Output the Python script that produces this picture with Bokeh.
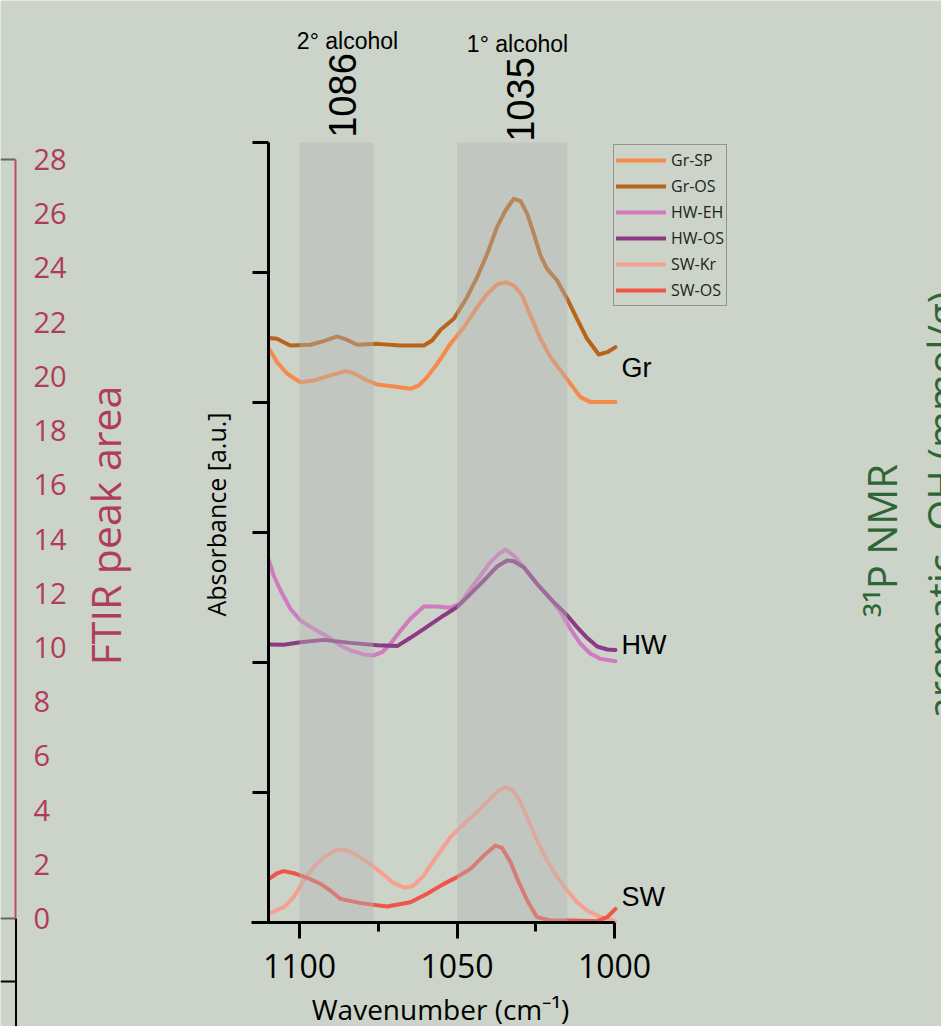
from bokeh.plotting import figure
from bokeh.models import (Range1d, LinearAxis, FixedTicker, Label, Legend,
                          LegendItem, ColumnDataSource)
from bokeh.embed import file_html
from bokeh.resources import INLINE

# ---------------- data ----------------
series_names = ["Gr-SP", "Gr-OS", "HW-EH", "HW-OS", "SW-Kr", "SW-OS"]
series_colors = ["#f58a4b", "#b8651b", "#d07ac0", "#8b3a84", "#f5a091", "#f0554a"]

grsp_wn = [1109.7, 1107.1, 1103.9, 1099.7, 1095.5, 1090.2, 1085.4, 1082.8, 1079.6, 1075.3, 1070.1,
           1064.8, 1062.1, 1059.5, 1056.3, 1052.1, 1047.8, 1043.6, 1040.4, 1037.3, 1034.6, 1032.0,
           1029.3, 1026.7, 1023.5, 1020.3, 1017.1, 1014.0, 1010.8, 1007.6, 999.7]
grsp_abs = [4.413, 4.310, 4.221, 4.156, 4.169, 4.208, 4.241, 4.226, 4.182, 4.138, 4.123,
            4.105, 4.131, 4.195, 4.297, 4.451, 4.579, 4.733, 4.836, 4.908, 4.926, 4.900,
            4.823, 4.669, 4.490, 4.349, 4.246, 4.144, 4.041, 4.003, 4.003]

gros_wn = [1109.7, 1107.1, 1105.0, 1102.9, 1096.5, 1092.3, 1088.0, 1084.9, 1081.7, 1075.3, 1067.9,
           1060.5, 1057.9, 1055.2, 1051.0, 1046.8, 1043.6, 1040.4, 1037.3, 1034.6, 1032.0, 1029.8,
           1027.7, 1025.6, 1023.5, 1021.4, 1018.2, 1015.0, 1011.9, 1008.7, 1005.0, 1002.3, 999.7]
gros_abs = [4.497, 4.490, 4.464, 4.438, 4.444, 4.472, 4.508, 4.482, 4.444, 4.451, 4.438,
            4.438, 4.477, 4.559, 4.644, 4.810, 4.964, 5.144, 5.349, 5.477, 5.567, 5.549,
            5.451, 5.297, 5.131, 5.028, 4.938, 4.797, 4.644, 4.490, 4.369, 4.387, 4.426]

hweh_wn = [1109.7, 1108.2, 1106.0, 1102.9, 1099.7, 1095.5, 1091.2, 1087.0, 1083.8, 1079.6, 1076.4,
           1073.8, 1071.1, 1067.9, 1064.8, 1060.5, 1056.3, 1052.1, 1048.9, 1045.7, 1042.5, 1039.4,
           1036.7, 1034.6, 1032.0, 1028.8, 1024.6, 1020.3, 1017.1, 1014.0, 1010.8, 1007.6, 1004.4, 999.7]
hweh_abs = [2.785, 2.669, 2.554, 2.413, 2.323, 2.259, 2.200, 2.131, 2.092, 2.062, 2.054,
            2.079, 2.144, 2.246, 2.336, 2.431, 2.431, 2.421, 2.456, 2.567, 2.669, 2.772,
            2.836, 2.869, 2.823, 2.733, 2.605, 2.490, 2.387, 2.259, 2.144, 2.067, 2.028, 2.010]

hwos_wn = [1109.7, 1105.0, 1099.7, 1092.3, 1083.8, 1075.3, 1069.0, 1064.8, 1060.5, 1054.2, 1050.0,
           1045.7, 1041.5, 1037.3, 1034.1, 1032.0, 1028.8, 1024.6, 1020.3, 1015.0, 1011.9, 1008.7,
           1005.5, 1002.3, 999.7]
hwos_abs = [2.138, 2.136, 2.156, 2.174, 2.151, 2.133, 2.126, 2.190, 2.259, 2.362, 2.426,
            2.528, 2.631, 2.738, 2.785, 2.779, 2.733, 2.605, 2.490, 2.362, 2.272, 2.190,
            2.123, 2.100, 2.097]

swkr_wn = [1109.7, 1105.0, 1101.8, 1098.6, 1095.5, 1092.3, 1088.6, 1085.4, 1082.2, 1078.5, 1074.3,
           1070.1, 1066.4, 1063.7, 1060.5, 1056.3, 1052.1, 1047.8, 1043.6, 1039.4, 1036.7, 1034.6,
           1032.5, 1030.4, 1027.7, 1024.6, 1021.4, 1018.2, 1015.0, 1011.9, 1008.7, 1004.4, 999.7]
swkr_abs = [0.067, 0.118, 0.195, 0.323, 0.426, 0.503, 0.554, 0.559, 0.523, 0.464, 0.387,
            0.303, 0.267, 0.285, 0.362, 0.515, 0.656, 0.759, 0.849, 0.951, 1.015, 1.041,
            1.021, 0.951, 0.810, 0.631, 0.477, 0.349, 0.246, 0.156, 0.092, 0.041, 0.010]

swos_wn = [1109.7, 1107.1, 1105.0, 1101.8, 1097.6, 1093.3, 1090.2, 1087.0, 1080.6, 1072.2, 1064.8,
           1059.5, 1054.2, 1050.0, 1045.7, 1041.5, 1037.8, 1035.7, 1033.0, 1030.4, 1027.7, 1024.6,
           1020.3, 1014.0, 1005.5, 1002.3, 999.7]
swos_abs = [0.336, 0.379, 0.395, 0.379, 0.344, 0.297, 0.246, 0.182, 0.149, 0.123, 0.156,
            0.221, 0.297, 0.349, 0.413, 0.515, 0.592, 0.574, 0.464, 0.310, 0.169, 0.041,
            0.015, 0.015, 0.010, 0.041, 0.105]

band_lo = [1100.0, 1050.0]
band_hi = [1076.5, 1015.0]
band_names = ["2° alcohol", "1° alcohol"]
band_peaks = ["1086", "1035"]
group_labels = ["Gr", "HW", "SW"]

x_ticks = [1000, 1050, 1100]
x_minor_ticks = [1025, 1075]
y_ticks = [0, 1, 2, 3, 4, 5, 6]
ftir_ticks = list(range(0, 29, 2))

# ---------------- layout helpers (picture pixel -> data) ----------------
W, H = 941, 1026
def dx(px):
    return 1000.0 + (614.0 - px) / 3.15
def dy(py):
    return (922.0 - py) / 130.0
def fy(py):
    return (918.0 - py) / 27.107

BG = "#ccd3c8"
CRIMSON = "#af3c5a"
GREEN = "#2e6535"

p = figure(width=W, height=H, output_backend="svg", toolbar_location=None,
           x_axis_type=None, y_axis_type=None, title=None,
           x_range=Range1d(dx(0), dx(W)), y_range=Range1d(dy(H), dy(0)),
           min_border=0)
p.min_border_left = p.min_border_right = p.min_border_top = p.min_border_bottom = 0
p.background_fill_color = BG
p.border_fill_color = BG
p.outline_line_color = None
p.extra_y_ranges = {"ftir": Range1d(fy(H), fy(0))}

# ---------------- curves ----------------
all_wn = [grsp_wn, gros_wn, hweh_wn, hwos_wn, swkr_wn, swos_wn]
all_abs = [grsp_abs, gros_abs, hweh_abs, hwos_abs, swkr_abs, swos_abs]
renderers = []
for name, col, xs, ys in zip(series_names, series_colors, all_wn, all_abs):
    r = p.line(x=xs, y=ys, line_color=col, line_width=4, line_join="round", line_cap="round")
    renderers.append(r)

# shaded bands (overlay, semi-transparent)
band_src = ColumnDataSource(dict(lo=band_lo, hi=band_hi))
p.quad(left="lo", right="hi", bottom=y_ticks[0], top=y_ticks[-1], source=band_src,
       fill_color="#b5b5b5", fill_alpha=0.42, line_color=None)

# ---------------- main axes ----------------
xax = LinearAxis(fixed_location=0, bounds=(1000, dx(251)),
                 ticker=FixedTicker(ticks=x_ticks, minor_ticks=x_minor_ticks))
xax.axis_line_width = 3
xax.axis_line_color = "black"
xax.major_tick_line_width = 3
xax.minor_tick_line_width = 3
xax.major_tick_out = 16
xax.major_tick_in = 0
xax.minor_tick_out = 9
xax.minor_tick_in = 0
xax.major_label_text_font = "Open Sans"
xax.major_label_text_font_size = "32px"
xax.major_label_text_color = "black"
xax.major_label_standoff = 15
p.add_layout(xax, "below")

yax = LinearAxis(fixed_location=dx(268), bounds=(0, 6),
                 ticker=FixedTicker(ticks=y_ticks, minor_ticks=[]))
yax.axis_line_width = 3
yax.axis_line_color = "black"
yax.major_tick_line_width = 3
yax.major_tick_out = 16
yax.major_tick_in = 0
yax.minor_tick_out = 0
yax.minor_tick_in = 0
yax.major_label_text_font_size = "0px"
yax.major_label_text_alpha = 0
p.add_layout(yax, "left")

# ---------------- left fragment: FTIR axis ----------------
fax = LinearAxis(y_range_name="ftir", fixed_location=dx(15), bounds=(0, 28),
                 ticker=FixedTicker(ticks=ftir_ticks, minor_ticks=[]))
fax.axis_line_color = "#c04a6a"
fax.axis_line_width = 2
fax.major_tick_out = 0
fax.major_tick_in = 0
fax.minor_tick_out = 0
fax.minor_tick_in = 0
fax.major_label_text_font = "Open Sans"
fax.major_label_text_font_size = "29px"
fax.major_label_text_color = CRIMSON
fax.major_label_standoff = 18
p.add_layout(fax, "right")

# frame fragments of neighbouring panels
p.segment(x0=[dx(0), dx(0)], y0=[ftir_ticks[-1], ftir_ticks[0]],
          x1=[dx(15), dx(15)], y1=[ftir_ticks[-1], ftir_ticks[0]],
          y_range_name="ftir", line_color="#6b6462", line_width=2)
p.segment(x0=[dx(15.5), dx(0)], y0=[ftir_ticks[0], fy(981)],
          x1=[dx(15.5), dx(15.5)], y1=[fy(1040), fy(981)],
          y_range_name="ftir", line_color="black", line_width=2)

# ---------------- legend ----------------
legend = Legend(items=[LegendItem(label=n, renderers=[r]) for n, r in zip(series_names, renderers)],
                location=(613, H - 306))
legend.label_text_font = "Open Sans"
legend.label_text_font_size = "16px"
legend.label_text_color = "#222222"
legend.glyph_width = 50
legend.glyph_height = 26
legend.label_height = 26
legend.label_standoff = 5
legend.spacing = 0
legend.padding = 2
legend.margin = 0
legend.border_line_color = "#555555"
legend.border_line_width = 1
legend.background_fill_alpha = 0
p.add_layout(legend)

# ---------------- texts ----------------
def add_label(text, px, py, size, font="Liberation Sans", color="black", angle=0,
              align="center", baseline="middle"):
    lab = Label(x=dx(px), y=dy(py), text=text, text_font=font, text_font_size=size,
                text_color=color, angle=angle, angle_units="deg",
                text_align=align, text_baseline=baseline)
    p.add_layout(lab)

add_label(band_names[0], 347, 40, "23px")
add_label(band_names[1], 517, 43, "23px")
add_label(band_peaks[0], 342, 95, "38px", angle=90)
add_label(band_peaks[1], 520, 99, "38px", angle=90)

for g, py in zip(group_labels, [367.5, 644, 896]):
    add_label(g, 621, py, "27px", align="left")

add_label("Absorbance [a.u.]", 215, 514, "25px", font="Open Sans", angle=90)
add_label("Wavenumber (cm\u207b\u00b9)", 440, 1008, "28px", font="Open Sans")
add_label("FTIR peak area", 104, 525, "41px", font="Open Sans", color=CRIMSON, angle=90)
add_label("\u00b3\u00b9P NMR", 881, 540, "40px", font="Open Sans", color=GREEN, angle=90)
add_label("aromatic -OH (mmol/g)", 941, 505, "40px", font="Open Sans", color=GREEN, angle=90)

open("out.html", "w").write(file_html(p, INLINE))
